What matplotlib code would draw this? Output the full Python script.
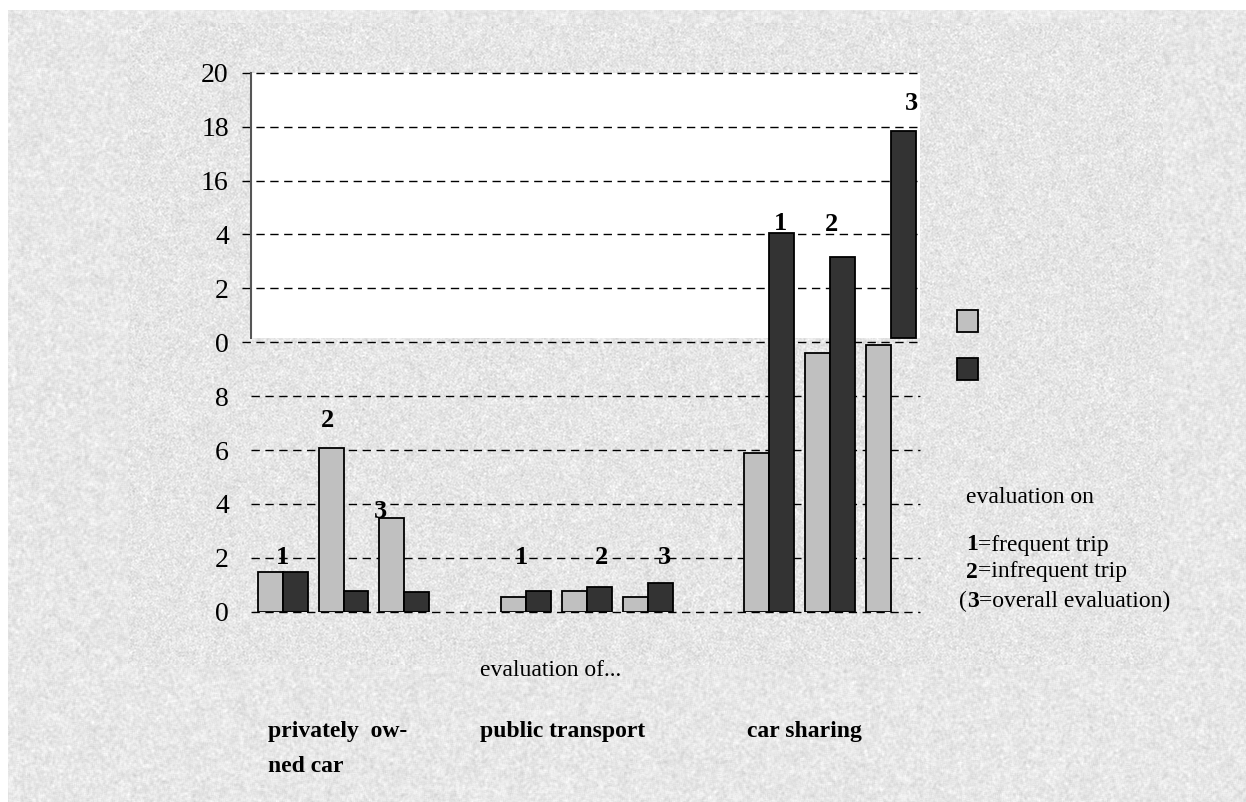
import numpy as np
import matplotlib
matplotlib.use("Agg")
import matplotlib.pyplot as plt
from matplotlib.patches import Rectangle

plt.rcParams['font.family'] = ['Liberation Serif', 'DejaVu Serif']

# evaluation scores, three pairs per mode of transport
groups = ['privately  ow-\nned car', 'public transport', 'car sharing']
pair_names = ['1', '2', '3']
light_vals = [1.46, 6.09, 3.47, 0.53, 0.75, 0.53, 5.9, 9.6, 9.9]
dark_vals = [1.46, 0.77, 0.74, 0.75, 0.9, 1.07, 14.07, 13.16, 17.85]
dark_base = [0, 0, 0, 0, 0, 0, 0, 0, 10.17]
y_ticks = [0, 2, 4, 6, 8, 10, 12, 14, 16, 18, 20]
y_ticklabels = ['0', '2', '4', '6', '8', '0', '2', '4', '16', '18', '20']
white_from = 10.17

W, H = 1246, 802


def px(x, y):
    return x / W, 1 - y / H


def smooth(a, n):
    k = np.ones(n) / n
    a = np.apply_along_axis(lambda r: np.convolve(r, k, mode='same'), 1, a)
    a = np.apply_along_axis(lambda c: np.convolve(c, k, mode='same'), 0, a)
    return a


def noise(rng, n):
    # pad then crop so the borders keep the same grain
    a = smooth(rng.normal(size=(H + 40, W + 40)), n)
    return a[20:-20, 20:-20]


# granite-like paper texture
rng = np.random.default_rng(7)
outer = 0.905 + 0.066 * noise(rng, 3) + 0.06 * noise(rng, 9)
inner = 0.9 + 0.056 * noise(rng, 2) + 0.05 * noise(rng, 9)
tex = outer.copy()
tex[23:665, 128:1163] = inner[23:665, 128:1163]
tex[:10, :] = 1.0
tex[:, :8] = 1.0
tex = np.clip(tex, 0, 1)

fig = plt.figure(figsize=(W / 100, H / 100), dpi=100)
bg = fig.add_axes([0, 0, 1, 1], zorder=0)
bg.imshow(tex, cmap='gray', vmin=0, vmax=1, aspect='auto', interpolation='nearest')
bg.axis('off')

x0, x1 = 251, 920
yb, yt = 611.7, 72.7
ax = fig.add_axes([x0 / W, (H - yb) / H, (x1 - x0) / W, (yb - yt) / H], zorder=1)
ax.patch.set_alpha(0)
ax.set_xlim(-0.521, 10.477)
ax.set_ylim(0, 20)

ax.axhspan(white_from, 20, color='white', zorder=0.5, lw=0)

# dashed grid, with short ticks on the upper part
for v in y_ticks:
    start = -0.013 if v >= 10 else 0
    ax.plot([start, 1], [v, v], transform=ax.get_yaxis_transform(), color='black',
            lw=1, ls=(0, (6, 4)), clip_on=False, zorder=1)

pos = np.array([4 * g + p for g in range(3) for p in range(3)], dtype=float)
bw = 0.41
dark_h = np.array(dark_vals) - np.array(dark_base)
ax.bar(pos - bw / 2, light_vals, bw, color='#c0c0c0', edgecolor='black', lw=1.3, zorder=3)
ax.bar(pos + bw / 2, dark_h, bw, bottom=dark_base, color='#333333', edgecolor='black',
       lw=1.3, zorder=3)

# pair numbers above the bars
lab_x = [0, 0.73, 1.61, 3.93, 5.24, 6.28, 8.18, 9.03, 10.34]
lab_y = [2.0, 7.08, 3.7, 2.0, 2.0, 2.0, 14.4, 14.37, 18.85]
for i in range(9):
    ax.text(lab_x[i], lab_y[i], pair_names[i % 3], ha='center', va='center',
            fontsize=19, fontweight='bold', zorder=4, clip_on=False)

ax.set_xticks([])
ax.set_yticks(y_ticks)
ax.set_yticklabels(y_ticklabels)
ax.tick_params(axis='y', length=0, pad=16, labelsize=20)
for s in ['top', 'right', 'bottom']:
    ax.spines[s].set_visible(False)
ax.spines['left'].set_bounds(white_from, 20)
ax.spines['left'].set_color('#555555')
ax.spines['left'].set_linewidth(1.5)

# legend swatches without labels
for yy, col in [(310, '#c0c0c0'), (358, '#333333')]:
    fx, fy = px(957, yy + 22)
    fig.patches.append(Rectangle((fx, fy), 21 / W, 22 / H, transform=fig.transFigure,
                                 facecolor=col, edgecolor='black', lw=1.3, zorder=5))

fs = 17
fig.text(*px(966, 498), 'evaluation on', fontsize=fs, va='center')


def line(x, y, parts):
    prev = fig.text(*px(x, y), parts[0][0], fontsize=fs, va='center',
                    fontweight='bold' if parts[0][1] else 'normal')
    for s, b in parts[1:]:
        prev = bg.annotate(s, xy=(1, 0), xycoords=prev, va='bottom', ha='left',
                           fontsize=fs, fontweight='bold' if b else 'normal',
                           annotation_clip=False)


line(966, 545, [('1', True), ('=frequent trip', False)])
line(966, 572, [('2', True), ('=infrequent trip', False)])
line(959, 601, [('(', False), ('3', True), ('=overall evaluation)', False)])

fig.text(*px(480, 670), 'evaluation of...', fontsize=fs, va='center')
fig.text(*px(268, 732), 'privately  ow-', fontsize=17, fontweight='bold', va='center')
fig.text(*px(268, 767), 'ned car', fontsize=17, fontweight='bold', va='center')
fig.text(*px(480, 732), groups[1], fontsize=17, fontweight='bold', va='center')
fig.text(*px(747, 732), groups[2], fontsize=17, fontweight='bold', va='center')

fig.savefig('out.png', dpi=100)
